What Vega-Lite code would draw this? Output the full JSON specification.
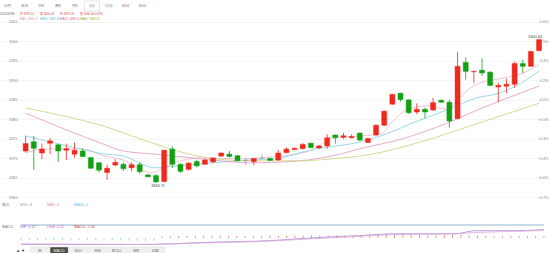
{
  "$schema": "https://vega.github.io/schema/vega-lite/v6.json",
  "padding": 0,
  "spacing": 0,
  "bounds": "flush",
  "background": "white",
  "resolve": {"scale": {"x": "independent", "y": "independent", "color": "independent", "fill": "independent", "stroke": "independent"}},
  "config": {
    "view": {"stroke": null},
    "font": "Liberation Sans, Noto Sans CJK SC, sans-serif",
    "axis": {"labelFontSize": 3.8, "labelColor": "#8a8a8a", "domain": false, "ticks": false, "tickSize": 0, "gridColor": "#eeeeee", "gridWidth": 0.6}
  },
  "datasets": {
    "tabs": [{"tab": "分时"}, {"tab": "五日"}, {"tab": "日K"}, {"tab": "周K"}, {"tab": "月K"}, {"tab": "5分"}, {"tab": "15分"}, {"tab": "30分"}, {"tab": "60分"}],
    "hdr": [
      {"row": 1, "slot": 0, "t": "2025/09/08", "k": "date"},
      {"row": 1, "slot": 1, "t": "开 3397.61", "k": "val"},
      {"row": 1, "slot": 2, "t": "高 3400.44", "k": "val"},
      {"row": 1, "slot": 3, "t": "低 3397.45", "k": "val"},
      {"row": 1, "slot": 4, "t": "收 3400.44  0.09%", "k": "val"},
      {"row": 2, "slot": 1, "t": "MA5: 3394.07", "k": "MA5"},
      {"row": 2, "slot": 2, "t": "MA10: 3392.36", "k": "MA10"},
      {"row": 2, "slot": 3, "t": "MA20: 3388.51", "k": "MA20"},
      {"row": 2, "slot": 4, "t": "MA30: 3384.12", "k": "MA30"}
    ],
    "candles": [
      {"i": 1, "o": 3371.9, "h": 3375.8, "l": 3371.5, "c": 3373.8, "hist": -1.6, "vma5": 0, "vma10": 0},
      {"i": 2, "o": 3374.3, "h": 3375.8, "l": 3367.1, "c": 3372.6, "hist": -1.8, "vma5": 0, "vma10": 0},
      {"i": 3, "o": 3371.4, "h": 3373.8, "l": 3369.8, "c": 3372.4, "hist": -1.7, "vma5": 0, "vma10": 0},
      {"i": 4, "o": 3373.9, "h": 3375.2, "l": 3371.1, "c": 3374.5, "hist": -1.5, "vma5": 0, "vma10": 0},
      {"i": 5, "o": 3373.5, "h": 3373.8, "l": 3369.1, "c": 3371.9, "hist": -1.7, "vma5": 0, "vma10": 0},
      {"i": 6, "o": 3372.1, "h": 3373.8, "l": 3369.6, "c": 3372.5, "hist": -1.8, "vma5": 0, "vma10": 0},
      {"i": 7, "o": 3371.1, "h": 3374.1, "l": 3370.2, "c": 3372.1, "hist": -1.9, "vma5": 0, "vma10": 0},
      {"i": 8, "o": 3371.9, "h": 3372.6, "l": 3370.3, "c": 3370.5, "hist": -1.8, "vma5": 0, "vma10": 0},
      {"i": 9, "o": 3370.2, "h": 3370.4, "l": 3367.3, "c": 3367.5, "hist": -2.0, "vma5": 0, "vma10": 0},
      {"i": 10, "o": 3368.9, "h": 3369.0, "l": 3366.4, "c": 3367.0, "hist": -2.1, "vma5": 0, "vma10": 0},
      {"i": 11, "o": 3366.4, "h": 3368.4, "l": 3364.5, "c": 3367.5, "hist": -2.2, "vma5": 0, "vma10": 0},
      {"i": 12, "o": 3368.3, "h": 3369.8, "l": 3368.1, "c": 3369.0, "hist": -2.0, "vma5": 0, "vma10": 0},
      {"i": 13, "o": 3368.5, "h": 3369.0, "l": 3366.8, "c": 3367.4, "hist": -2.1, "vma5": 0, "vma10": 0},
      {"i": 14, "o": 3367.6, "h": 3369.0, "l": 3366.7, "c": 3368.4, "hist": -2.2, "vma5": 0, "vma10": 0},
      {"i": 15, "o": 3368.4, "h": 3369.0, "l": 3366.1, "c": 3366.6, "hist": -2.3, "vma5": 0, "vma10": 0},
      {"i": 16, "o": 3365.8, "h": 3366.0, "l": 3365.2, "c": 3365.3, "hist": -2.4, "vma5": 0, "vma10": 0},
      {"i": 17, "o": 3365.6, "h": 3366.0, "l": 3363.71, "c": 3364.0, "hist": -2.5, "vma5": 0, "vma10": 0},
      {"i": 18, "o": 3364.1, "h": 3372.2, "l": 3363.9, "c": 3372.1, "hist": 1.4, "vma5": 0, "vma10": 0},
      {"i": 19, "o": 3372.4, "h": 3373.1, "l": 3367.5, "c": 3368.5, "hist": 1.6, "vma5": 0, "vma10": 0},
      {"i": 20, "o": 3368.5, "h": 3368.8, "l": 3366.3, "c": 3366.7, "hist": 1.7, "vma5": 0, "vma10": 0},
      {"i": 21, "o": 3367.2, "h": 3369.0, "l": 3366.9, "c": 3368.8, "hist": 1.8, "vma5": 0, "vma10": 0},
      {"i": 22, "o": 3369.2, "h": 3369.7, "l": 3367.7, "c": 3368.1, "hist": 1.9, "vma5": 0, "vma10": 0},
      {"i": 23, "o": 3368.5, "h": 3369.9, "l": 3368.3, "c": 3369.6, "hist": 2.0, "vma5": 0, "vma10": 0},
      {"i": 24, "o": 3369.1, "h": 3370.3, "l": 3368.9, "c": 3370.1, "hist": 1.9, "vma5": 0, "vma10": 0},
      {"i": 25, "o": 3370.6, "h": 3371.5, "l": 3370.4, "c": 3371.4, "hist": 2.0, "vma5": 0, "vma10": 0},
      {"i": 26, "o": 3371.1, "h": 3371.9, "l": 3370.3, "c": 3370.5, "hist": 1.9, "vma5": 0, "vma10": 0},
      {"i": 27, "o": 3370.7, "h": 3370.9, "l": 3369.3, "c": 3369.4, "hist": 1.8, "vma5": 0, "vma10": 0},
      {"i": 28, "o": 3369.5, "h": 3370.1, "l": 3368.4, "c": 3369.5, "hist": 1.8, "vma5": 0, "vma10": 0},
      {"i": 29, "o": 3369.2, "h": 3370.0, "l": 3368.3, "c": 3370.0, "hist": 1.9, "vma5": 0, "vma10": 0},
      {"i": 30, "o": 3370.1, "h": 3371.1, "l": 3369.8, "c": 3370.1, "hist": 1.9, "vma5": 0, "vma10": 0},
      {"i": 31, "o": 3370.0, "h": 3370.2, "l": 3369.4, "c": 3369.5, "hist": 2.0, "vma5": 0, "vma10": 0},
      {"i": 32, "o": 3369.6, "h": 3372.2, "l": 3369.4, "c": 3371.4, "hist": 2.0, "vma5": 0, "vma10": 0},
      {"i": 33, "o": 3371.5, "h": 3372.8, "l": 3371.3, "c": 3372.4, "hist": 2.1, "vma5": 0, "vma10": 0},
      {"i": 34, "o": 3372.3, "h": 3372.8, "l": 3372.1, "c": 3372.6, "hist": 2.1, "vma5": 0, "vma10": 0},
      {"i": 35, "o": 3372.5, "h": 3373.9, "l": 3372.3, "c": 3373.6, "hist": 2.2, "vma5": 0, "vma10": 0},
      {"i": 36, "o": 3373.9, "h": 3374.0, "l": 3372.6, "c": 3372.8, "hist": 2.3, "vma5": 0, "vma10": 0},
      {"i": 37, "o": 3372.7, "h": 3373.5, "l": 3372.5, "c": 3373.2, "hist": 2.3, "vma5": 0, "vma10": 0},
      {"i": 38, "o": 3373.2, "h": 3376.2, "l": 3372.5, "c": 3375.3, "hist": 2.2, "vma5": 0, "vma10": 0},
      {"i": 39, "o": 3376.0, "h": 3376.1, "l": 3373.8, "c": 3375.3, "hist": 2.2, "vma5": 0, "vma10": 0},
      {"i": 40, "o": 3375.4, "h": 3376.6, "l": 3375.0, "c": 3375.8, "hist": 2.1, "vma5": 0, "vma10": 0},
      {"i": 41, "o": 3375.3, "h": 3376.2, "l": 3375.1, "c": 3375.6, "hist": 2.2, "vma5": 0, "vma10": 0},
      {"i": 42, "o": 3376.5, "h": 3376.6, "l": 3374.5, "c": 3374.7, "hist": 2.5, "vma5": 0, "vma10": 0},
      {"i": 43, "o": 3374.1, "h": 3375.3, "l": 3373.9, "c": 3375.1, "hist": 3.0, "vma5": 0, "vma10": 0},
      {"i": 44, "o": 3376.0, "h": 3378.8, "l": 3375.8, "c": 3378.5, "hist": 3.4, "vma5": 0, "vma10": 0},
      {"i": 45, "o": 3378.5, "h": 3382.3, "l": 3378.3, "c": 3382.1, "hist": 3.6, "vma5": 0, "vma10": 0},
      {"i": 46, "o": 3383.9, "h": 3386.6, "l": 3383.7, "c": 3386.4, "hist": 3.4, "vma5": 0, "vma10": 0},
      {"i": 47, "o": 3386.7, "h": 3386.8, "l": 3384.6, "c": 3385.1, "hist": 3.1, "vma5": 0, "vma10": 0},
      {"i": 48, "o": 3385.0, "h": 3385.1, "l": 3381.4, "c": 3381.7, "hist": 2.8, "vma5": 0, "vma10": 0},
      {"i": 49, "o": 3381.9, "h": 3384.1, "l": 3381.3, "c": 3382.6, "hist": 2.6, "vma5": 0, "vma10": 0},
      {"i": 50, "o": 3382.6, "h": 3383.0, "l": 3380.3, "c": 3381.9, "hist": 2.4, "vma5": 0, "vma10": 0},
      {"i": 51, "o": 3382.4, "h": 3385.5, "l": 3382.2, "c": 3384.3, "hist": 2.2, "vma5": 0, "vma10": 0},
      {"i": 52, "o": 3384.9, "h": 3385.1, "l": 3384.2, "c": 3384.4, "hist": 2.9, "vma5": 0, "vma10": 0},
      {"i": 53, "o": 3384.4, "h": 3385.0, "l": 3377.9, "c": 3379.6, "hist": 3.0, "vma5": 0, "vma10": 0},
      {"i": 54, "o": 3380.2, "h": 3397.3, "l": 3380.0, "c": 3393.6, "hist": 2.7, "vma5": 0, "vma10": 0},
      {"i": 55, "o": 3394.6, "h": 3395.9, "l": 3390.2, "c": 3392.3, "hist": 2.4, "vma5": 0, "vma10": 0},
      {"i": 56, "o": 3392.2, "h": 3392.5, "l": 3389.4, "c": 3392.3, "hist": 2.1, "vma5": 0, "vma10": 0},
      {"i": 57, "o": 3392.6, "h": 3395.6, "l": 3391.1, "c": 3391.9, "hist": 1.8, "vma5": 0, "vma10": 0},
      {"i": 58, "o": 3392.1, "h": 3392.3, "l": 3388.5, "c": 3388.7, "hist": 1.6, "vma5": 0, "vma10": 0},
      {"i": 59, "o": 3388.3, "h": 3389.4, "l": 3384.4, "c": 3388.7, "hist": 1.7, "vma5": 0, "vma10": 0},
      {"i": 60, "o": 3388.5, "h": 3390.4, "l": 3386.7, "c": 3389.0, "hist": 1.9, "vma5": 0, "vma10": 0},
      {"i": 61, "o": 3389.0, "h": 3394.8, "l": 3388.1, "c": 3394.3, "hist": 1.8, "vma5": 0, "vma10": 0},
      {"i": 62, "o": 3394.3, "h": 3395.3, "l": 3391.9, "c": 3393.6, "hist": 1.7, "vma5": 0, "vma10": 0},
      {"i": 63, "o": 3393.6, "h": 3397.6, "l": 3393.4, "c": 3397.4, "hist": 1.6, "vma5": 0, "vma10": 0},
      {"i": 64, "o": 3397.61, "h": 3400.44, "l": 3397.45, "c": 3400.44, "hist": 1.58, "vma5": 0, "vma10": 0}
    ],
    "ma": [
      {"i": 1, "m": "MA5", "v": 3371.43}, {"i": 3.65, "m": "MA5", "v": 3372.45}, {"i": 8.1, "m": "MA5", "v": 3372.45}, {"i": 10.2, "m": "MA5", "v": 3370.92}, {"i": 12.9, "m": "MA5", "v": 3369.64}, {"i": 16.5, "m": "MA5", "v": 3366.33}, {"i": 17.7, "m": "MA5", "v": 3367.35}, {"i": 19.6, "m": "MA5", "v": 3369.13}, {"i": 22.6, "m": "MA5", "v": 3370.15}, {"i": 27.4, "m": "MA5", "v": 3369.9}, {"i": 31, "m": "MA5", "v": 3370.41}, {"i": 34.6, "m": "MA5", "v": 3371.17}, {"i": 37, "m": "MA5", "v": 3373.21}, {"i": 38.6, "m": "MA5", "v": 3375.3}, {"i": 43, "m": "MA5", "v": 3375.9}, {"i": 44.6, "m": "MA5", "v": 3376.3}, {"i": 46.1, "m": "MA5", "v": 3379.59}, {"i": 47.9, "m": "MA5", "v": 3382.6}, {"i": 50.6, "m": "MA5", "v": 3383.5}, {"i": 52.7, "m": "MA5", "v": 3382.65}, {"i": 54.7, "m": "MA5", "v": 3386.5}, {"i": 56.3, "m": "MA5", "v": 3389.03}, {"i": 59.6, "m": "MA5", "v": 3390.56}, {"i": 62, "m": "MA5", "v": 3391.84}, {"i": 64, "m": "MA5", "v": 3394.07},
      {"i": 1, "m": "MA10", "v": 3375.77}, {"i": 4.5, "m": "MA10", "v": 3373.98}, {"i": 7.7, "m": "MA10", "v": 3372.45}, {"i": 10.5, "m": "MA10", "v": 3371.17}, {"i": 12.9, "m": "MA10", "v": 3370.66}, {"i": 16.9, "m": "MA10", "v": 3367.6}, {"i": 19.6, "m": "MA10", "v": 3368.11}, {"i": 22.6, "m": "MA10", "v": 3368.62}, {"i": 28.6, "m": "MA10", "v": 3369.64}, {"i": 31.6, "m": "MA10", "v": 3369.9}, {"i": 34.6, "m": "MA10", "v": 3371.43}, {"i": 36.7, "m": "MA10", "v": 3372.45}, {"i": 41.5, "m": "MA10", "v": 3373.98}, {"i": 44.6, "m": "MA10", "v": 3375.8}, {"i": 49.1, "m": "MA10", "v": 3379.6}, {"i": 53, "m": "MA10", "v": 3382.65}, {"i": 56.3, "m": "MA10", "v": 3385.5}, {"i": 58.7, "m": "MA10", "v": 3386.5}, {"i": 61.1, "m": "MA10", "v": 3388.5}, {"i": 64, "m": "MA10", "v": 3392.36},
      {"i": 1, "m": "MA20", "v": 3381.63}, {"i": 5.7, "m": "MA20", "v": 3377.55}, {"i": 10.5, "m": "MA20", "v": 3373.72}, {"i": 12.9, "m": "MA20", "v": 3371.94}, {"i": 16.5, "m": "MA20", "v": 3371.17}, {"i": 22.6, "m": "MA20", "v": 3369.9}, {"i": 28.6, "m": "MA20", "v": 3368.88}, {"i": 34.6, "m": "MA20", "v": 3369.39}, {"i": 38.6, "m": "MA20", "v": 3370.66}, {"i": 43, "m": "MA20", "v": 3373.0}, {"i": 46.3, "m": "MA20", "v": 3374.49}, {"i": 53, "m": "MA20", "v": 3379.3}, {"i": 56.3, "m": "MA20", "v": 3382.3}, {"i": 64, "m": "MA20", "v": 3388.51},
      {"i": 1, "m": "MA30", "v": 3382.91}, {"i": 5.7, "m": "MA30", "v": 3380.87}, {"i": 10.5, "m": "MA30", "v": 3378.32}, {"i": 16.5, "m": "MA30", "v": 3373.98}, {"i": 22.6, "m": "MA30", "v": 3370.41}, {"i": 28.6, "m": "MA30", "v": 3369.39}, {"i": 34.6, "m": "MA30", "v": 3369.39}, {"i": 38.6, "m": "MA30", "v": 3369.9}, {"i": 43, "m": "MA30", "v": 3370.92}, {"i": 49.9, "m": "MA30", "v": 3374.49}, {"i": 56.3, "m": "MA30", "v": 3378.83}, {"i": 64, "m": "MA30", "v": 3384.12}
    ],
    "ann": [
      {"i": 64, "v": 3400.44, "t": "3400.44", "k": "high"},
      {"i": 17, "v": 3363.71, "t": "3363.71", "k": "low"}
    ],
    "volhdr": [
      {"slot": 0, "t": "成交", "k": "lab"},
      {"slot": 2, "t": "VOL: 0", "k": "lab"},
      {"slot": 5, "t": "MA5: 0", "k": "MA5"},
      {"slot": 8, "t": "MA10: 0", "k": "MA10"}
    ],
    "macdhdr": [
      {"slot": 0, "t": "MACD", "k": "lab"},
      {"slot": 2, "t": "DIF: 5.17", "k": "DIF"},
      {"slot": 5, "t": "DEA: 4.42", "k": "DEA"},
      {"slot": 8, "t": "MACD: 1.58", "k": "MACDv"}
    ],
    "macdl": [
      {"i": 1, "k": "DIF", "v": -5.4}, {"i": 10.5, "k": "DIF", "v": -5.6}, {"i": 16.9, "k": "DIF", "v": -5.4}, {"i": 22.6, "k": "DIF", "v": -3.9}, {"i": 31.6, "k": "DIF", "v": -2.0}, {"i": 36.4, "k": "DIF", "v": 0.3}, {"i": 41.8, "k": "DIF", "v": 2.1}, {"i": 46.1, "k": "DIF", "v": 3.7}, {"i": 53.3, "k": "DIF", "v": 3.7}, {"i": 55.7, "k": "DIF", "v": 6.3}, {"i": 61.1, "k": "DIF", "v": 6.4}, {"i": 64, "k": "DIF", "v": 7.3},
      {"i": 1, "k": "DEA", "v": -5.0}, {"i": 10.5, "k": "DEA", "v": -5.3}, {"i": 16.9, "k": "DEA", "v": -5.5}, {"i": 22.6, "k": "DEA", "v": -4.3}, {"i": 31.6, "k": "DEA", "v": -2.4}, {"i": 36.4, "k": "DEA", "v": -0.5}, {"i": 41.8, "k": "DEA", "v": 1.5}, {"i": 46.1, "k": "DEA", "v": 3.0}, {"i": 53.3, "k": "DEA", "v": 3.6}, {"i": 55.7, "k": "DEA", "v": 4.8}, {"i": 61.1, "k": "DEA", "v": 5.8}, {"i": 64, "k": "DEA", "v": 6.6}
    ],
    "buttons": [{"b": "▲ ▼"}, {"b": "无"}, {"b": "MACD"}, {"b": "KDJ"}, {"b": "RSI"}, {"b": "BOLL"}, {"b": "WR"}, {"b": "DMI"}]
  },
  "vconcat": [
    {
      "width": 150, "height": 10,
      "data": {"name": "tabs"},
      "layer": [
        {
          "transform": [{"filter": "datum.tab == '5分'"}],
          "mark": {"type": "rect", "fill": "white", "stroke": "#c8c8c8", "strokeWidth": 0.5},
          "encoding": {"x": {"field": "tab", "type": "nominal", "sort": null, "scale": {"domain": ["分时", "五日", "日K", "周K", "月K", "5分", "15分", "30分", "60分"], "paddingInner": 0.1, "paddingOuter": 0}, "axis": null}}
        },
        {
          "mark": {"type": "text", "fontSize": 3.8, "color": "#777777", "baseline": "middle"},
          "encoding": {"x": {"field": "tab", "type": "nominal", "sort": null, "scale": {"domain": ["分时", "五日", "日K", "周K", "月K", "5分", "15分", "30分", "60分"], "paddingInner": 0.1, "paddingOuter": 0}, "axis": null}, "text": {"field": "tab"}}
        }
      ]
    },
    {
      "width": 120, "height": 10,
      "data": {"name": "hdr"},
      "mark": {"type": "text", "fontSize": 2.9, "align": "left", "baseline": "middle"},
      "encoding": {
        "x": {"field": "slot", "type": "ordinal", "scale": {"type": "band", "domain": [0, 1, 2, 3, 4, 5], "paddingInner": 0, "paddingOuter": 0}, "bandPosition": 0, "axis": null},
        "y": {"field": "row", "type": "ordinal", "scale": {"domain": [1, 2]}, "axis": null},
        "text": {"field": "t"},
        "color": {"field": "k", "type": "nominal", "scale": {"domain": ["date", "val", "MA5", "MA10", "MA20", "MA30"], "range": ["#666666", "#e0483a", "#e48ab0", "#4fbfd6", "#d06aa6", "#8ea83c"]}, "legend": null}
      }
    },
    {
      "width": 550, "height": 177,
      "resolve": {"scale": {"y": "independent"}, "axis": {"y": "independent"}},
      "layer": [
        {
          "data": {"name": "ma"},
          "mark": {"type": "line", "strokeWidth": 0.8, "interpolate": "monotone"},
          "encoding": {
            "x": {"field": "i", "type": "quantitative", "scale": {"domain": [-1.53, 64.73], "nice": false, "zero": false},
              "axis": {"values": [1, 5, 17, 29, 41, 53, 64], "title": null, "labelColor": "#555555", "labelPadding": 0.5, "labelBaseline": "top", "labelFlush": 8,
                "labelExpr": "datum.value == 1 || datum.value == 64 ? '2025/9/8' : datum.value == 5 ? '5:00' : datum.value == 17 ? '6:00' : datum.value == 29 ? '7:00' : datum.value == 41 ? '8:00' : '9:00'",
                "grid": true, "gridColor": {"condition": {"test": "datum.value == 1 || datum.value == 64", "value": "transparent"}, "value": "#ececec"}}},
            "y": {"field": "v", "type": "quantitative", "scale": {"domain": [3359.87, 3405.2], "nice": false, "zero": false},
              "axis": {"values": [3360, 3365, 3370, 3375, 3380, 3385, 3390, 3395, 3400, 3405], "title": null, "format": "d", "labelAlign": "right", "labelPadding": -17, "labelBaseline": "middle", "grid": true}},
            "color": {"field": "m", "type": "nominal", "scale": {"domain": ["MA5", "MA10", "MA20", "MA30"], "range": ["#f2b3c9", "#80d0e2", "#e395c4", "#c9d27c"]}, "legend": null}
          }
        },
        {
          "data": {"name": "candles"},
          "mark": {"type": "rule", "strokeWidth": 0.8},
          "encoding": {
            "x": {"field": "i", "type": "quantitative", "scale": {"domain": [-1.53, 64.73], "nice": false, "zero": false}, "axis": null},
            "y": {"field": "l", "type": "quantitative", "scale": {"domain": [3359.87, 3405.2], "nice": false, "zero": false}, "axis": null},
            "y2": {"field": "h"},
            "color": {"condition": [{"test": "datum.c > datum.o", "value": "#ee2a1e"}, {"test": "datum.c < datum.o", "value": "#14a014"}], "value": "#999999"}
          }
        },
        {
          "data": {"name": "candles"},
          "mark": {"type": "bar", "width": 5, "strokeWidth": 0.5},
          "encoding": {
            "x": {"field": "i", "type": "quantitative", "scale": {"domain": [-1.53, 64.73], "nice": false, "zero": false}, "axis": null},
            "y": {"field": "o", "type": "quantitative", "scale": {"domain": [3359.87, 3405.2], "nice": false, "zero": false}, "axis": null},
            "y2": {"field": "c"},
            "fill": {"condition": [{"test": "datum.c > datum.o", "value": "#ee2a1e"}, {"test": "datum.c < datum.o", "value": "#14a014"}], "value": "#999999"},
            "stroke": {"condition": [{"test": "datum.c > datum.o", "value": "#ee2a1e"}, {"test": "datum.c < datum.o", "value": "#14a014"}], "value": "#999999"}
          }
        },
        {
          "data": {"name": "ann"},
          "transform": [{"filter": "datum.k == 'high'"}],
          "mark": {"type": "text", "fontSize": 3.8, "align": "right", "baseline": "bottom", "dx": 3, "dy": -1, "color": "#444444"},
          "encoding": {
            "x": {"field": "i", "type": "quantitative", "scale": {"domain": [-1.53, 64.73], "nice": false, "zero": false}, "axis": null},
            "y": {"field": "v", "type": "quantitative", "scale": {"domain": [3359.87, 3405.2], "nice": false, "zero": false},
              "axis": {"orient": "right", "values": [3360, 3365, 3370, 3375, 3380, 3385, 3390, 3395, 3400, 3405], "title": null, "labelAlign": "right", "labelPadding": -2, "labelBaseline": "middle", "grid": false,
                "labelExpr": "format((datum.value - 3384) / 3384 * 100, '.1f') + '%'"}},
            "text": {"field": "t"}
          }
        },
        {
          "data": {"name": "ann"},
          "transform": [{"filter": "datum.k == 'low'"}],
          "mark": {"type": "text", "fontSize": 3.8, "align": "center", "baseline": "top", "dy": 1, "dx": 2, "color": "#444444"},
          "encoding": {
            "x": {"field": "i", "type": "quantitative", "scale": {"domain": [-1.53, 64.73], "nice": false, "zero": false}, "axis": null},
            "y": {"field": "v", "type": "quantitative", "scale": {"domain": [3359.87, 3405.2], "nice": false, "zero": false}, "axis": null},
            "text": {"field": "t"}
          }
        }
      ]
    },
    {
      "width": 81, "height": 10,
      "data": {"name": "volhdr"},
      "mark": {"type": "text", "fontSize": 3.8, "align": "left", "baseline": "middle", "dx": 2, "dy": 2},
      "encoding": {
        "x": {"field": "slot", "type": "ordinal", "scale": {"type": "band", "domain": [0, 1, 2, 3, 4, 5, 6, 7, 8], "paddingInner": 0, "paddingOuter": 0}, "bandPosition": 0, "axis": null},
        "text": {"field": "t"},
        "color": {"field": "k", "type": "nominal", "scale": {"domain": ["lab", "MA5", "MA10"], "range": ["#777777", "#e48ab0", "#4fbfd6"]}, "legend": null}
      }
    },
    {
      "width": 550, "height": 17,
      "data": {"name": "candles"},
      "layer": [
        {
          "mark": {"type": "line", "color": "#f2b3c9", "strokeWidth": 0.8},
          "encoding": {
            "x": {"field": "i", "type": "quantitative", "scale": {"domain": [-1.53, 64.73], "nice": false, "zero": false},
              "axis": {"values": [5, 17, 29, 41, 53], "labels": false, "title": null, "grid": true, "gridColor": "#ececec"}},
            "y": {"field": "vma5", "type": "quantitative", "scale": {"domain": [0, 4.3], "nice": false},
              "axis": {"values": [4], "title": null, "labelAlign": "right", "labelPadding": -17, "labelBaseline": "middle", "grid": true}}
          }
        },
        {
          "mark": {"type": "line", "color": "#80d0e2", "strokeWidth": 0.8},
          "encoding": {
            "x": {"field": "i", "type": "quantitative", "axis": null},
            "y": {"field": "vma10", "type": "quantitative", "axis": null}
          }
        }
      ]
    },
    {
      "width": 81, "height": 4,
      "data": {"name": "macdhdr"},
      "mark": {"type": "text", "fontSize": 3.8, "align": "left", "baseline": "middle", "dx": 2},
      "encoding": {
        "x": {"field": "slot", "type": "ordinal", "scale": {"type": "band", "domain": [0, 1, 2, 3, 4, 5, 6, 7, 8], "paddingInner": 0, "paddingOuter": 0}, "bandPosition": 0, "axis": null},
        "text": {"field": "t"},
        "color": {"field": "k", "type": "nominal", "scale": {"domain": ["lab", "DIF", "DEA", "MACDv"], "range": ["#777777", "#7a68c8", "#d873c4", "#b5533f"]}, "legend": null}
      }
    },
    {
      "width": 550, "height": 18,
      "layer": [
        {
          "data": {"name": "candles"},
          "mark": {"type": "rule", "strokeWidth": 0.8},
          "encoding": {
            "x": {"field": "i", "type": "quantitative", "scale": {"domain": [-1.53, 64.73], "nice": false, "zero": false},
              "axis": {"values": [5, 17, 29, 41, 53], "labels": false, "title": null, "grid": true, "gridColor": "#ececec"}},
            "y": {"field": "hist", "type": "quantitative", "scale": {"domain": [-7.7, 7.8], "nice": false, "zero": false},
              "axis": {"values": [-6, 6], "title": null, "labelAlign": "right", "labelPadding": -17, "labelBaseline": "middle", "grid": true}},
            "y2": {"datum": 0},
            "color": {"condition": {"test": "datum.hist > 0", "value": "#e27b62"}, "value": "#86d2c8"}
          }
        },
        {
          "data": {"name": "macdl"},
          "mark": {"type": "line", "strokeWidth": 0.8, "interpolate": "monotone"},
          "encoding": {
            "x": {"field": "i", "type": "quantitative", "axis": null},
            "y": {"field": "v", "type": "quantitative", "axis": null},
            "color": {"field": "k", "type": "nominal", "scale": {"domain": ["DIF", "DEA"], "range": ["#9d88db", "#e7a6d8"]}, "legend": null}
          }
        }
      ]
    },
    {
      "width": 176, "height": 7,
      "data": {"name": "buttons"},
      "layer": [
        {
          "transform": [{"filter": "datum.b != '▲ ▼'"}],
          "mark": {"type": "rect", "strokeWidth": 0.5, "stroke": "#dcdcdc"},
          "encoding": {
            "x": {"field": "b", "type": "nominal", "sort": null, "scale": {"domain": ["▲ ▼", "无", "MACD", "KDJ", "RSI", "BOLL", "WR", "DMI"], "paddingInner": 0.06, "paddingOuter": 0.6}, "axis": null},
            "fill": {"condition": {"test": "datum.b == 'MACD'", "value": "#4a4a4a"}, "value": "#f0f0f0"}
          }
        },
        {
          "mark": {"type": "text", "fontSize": 3.8, "baseline": "middle"},
          "encoding": {
            "x": {"field": "b", "type": "nominal", "sort": null, "scale": {"domain": ["▲ ▼", "无", "MACD", "KDJ", "RSI", "BOLL", "WR", "DMI"], "paddingInner": 0.06, "paddingOuter": 0.6}, "axis": null},
            "text": {"field": "b"},
            "color": {"condition": [{"test": "datum.b == 'MACD'", "value": "#ffffff"}, {"test": "datum.b == '▲ ▼'", "value": "#222222"}], "value": "#666666"}
          }
        }
      ]
    }
  ]
}
